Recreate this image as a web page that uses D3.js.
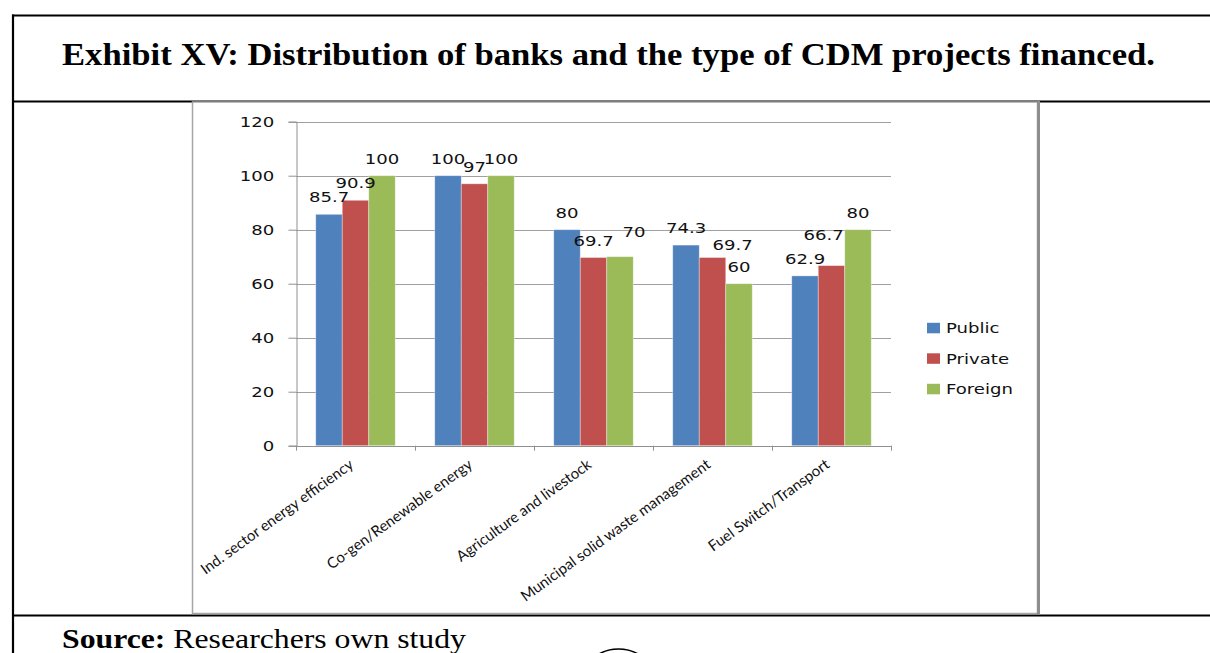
<!DOCTYPE html>
<html>
<head>
<meta charset="utf-8">
<script src="https://cdn.jsdelivr.net/npm/d3@7"></script>
<style>
  html, body { margin: 0; padding: 0; background: #fff; }
  svg { display: block; }
</style>
</head>
<body>
<svg id="chart" width="1210" height="653"></svg>
<script>
// CDM project types financed, by bank ownership (% of banks)
const categories = [
  "Ind. sector energy efficiency",
  "Co-gen/Renewable energy",
  "Agriculture and livestock",
  "Municipal solid waste management",
  "Fuel Switch/Transport"
];
const seriesNames = ["Public", "Private", "Foreign"];
const publicValues  = [85.7, 100, 80, 74.3, 62.9];
const privateValues = [90.9, 97, 69.7, 69.7, 66.7];
const foreignValues = [100, 100, 70, 60, 80];
const yTickValues = [0, 20, 40, 60, 80, 100, 120];

const titleText = "Exhibit XV: Distribution of banks and the type of CDM projects financed.";
const sourceLabel = "Source:";
const sourceText = " Researchers own study";

const seriesValues = [publicValues, privateValues, foreignValues];
const colors = ["#4F81BD", "#C0504D", "#9BBB59"];

const svg = d3.select("#chart");
const W = 1210, H = 653;

// ---- document frame (table cells) ----
const frame = svg.append("g").attr("stroke", "#000").attr("stroke-width", 2.2).attr("fill", "none");
frame.append("line").attr("x1", 12).attr("x2", W).attr("y1", 15.5).attr("y2", 15.5);
frame.append("line").attr("x1", 13).attr("x2", 13).attr("y1", 14.5).attr("y2", H);
frame.append("line").attr("x1", 12).attr("x2", W).attr("y1", 101.5).attr("y2", 101.5);
frame.append("line").attr("x1", 12).attr("x2", W).attr("y1", 615.5).attr("y2", 615.5);

// title
svg.append("text")
  .attr("x", 62).attr("y", 65)
  .attr("font-family", "'Liberation Serif', 'Times New Roman', serif")
  .attr("font-weight", "bold")
  .attr("font-size", 32.5)
  .attr("textLength", 1093)
  .attr("lengthAdjust", "spacingAndGlyphs")
  .text(titleText);

// source line
const src = svg.append("text")
  .attr("x", 62).attr("y", 648)
  .attr("font-family", "'Liberation Serif', 'Times New Roman', serif")
  .attr("font-size", 28)
  .attr("textLength", 404)
  .attr("lengthAdjust", "spacingAndGlyphs");
src.append("tspan").attr("font-weight", "bold").text(sourceLabel);
src.append("tspan").text(sourceText);

// page-number ring peeking in at the bottom
svg.append("circle")
  .attr("cx", 618.5).attr("cy", 689).attr("r", 40)
  .attr("fill", "none").attr("stroke", "#000").attr("stroke-width", 1.6);

// ---- chart box ----
svg.append("rect")
  .attr("x", 192.5).attr("y", 102).attr("width", 845).attr("height", 511.5)
  .attr("fill", "#fff").attr("stroke", "#a6a6a6").attr("stroke-width", 1.5);
svg.append("line")
  .attr("x1", 1038.5).attr("x2", 1038.5).attr("y1", 101).attr("y2", 614.5)
  .attr("stroke", "#8e8e8e").attr("stroke-width", 3);

// ---- scales ----
const plotLeft = 296, plotRight = 891, plotTop = 121.7, plotBottom = 445.7;
const x0 = d3.scaleBand().domain(categories).range([plotLeft, plotRight])
  .paddingInner(0.332).paddingOuter(0.166);
const x1 = d3.scaleBand().domain(seriesNames).range([0, x0.bandwidth()]);
const y = d3.scaleLinear().domain([0, 120]).range([plotBottom, plotTop]);

const SX = 1.23; // horizontal stretch of the chart lettering
const chartFont = "'DejaVu Sans', Verdana, sans-serif";

// gridlines
svg.append("g").selectAll("line").data(yTickValues.filter(v => v > 0)).join("line")
  .attr("x1", plotLeft).attr("x2", plotRight)
  .attr("y1", d => Math.round(y(d)) + 0.5).attr("y2", d => Math.round(y(d)) + 0.5)
  .attr("stroke", "#a0a0a0").attr("stroke-width", 1);

// y axis
const yAxis = svg.append("g")
  .attr("transform", `translate(${plotLeft + 0.5},0)`)
  .call(d3.axisLeft(y).tickValues(yTickValues).tickSize(8).tickPadding(10));
yAxis.select(".domain").attr("stroke", "#909090");
yAxis.selectAll(".tick line").attr("stroke", "#909090");
yAxis.selectAll(".tick text")
  .attr("font-family", chartFont).attr("font-size", 14.7).attr("fill", "#111")
  .attr("transform", `scale(${SX},1)`);

// bars
const groups = svg.append("g").selectAll("g").data(categories).join("g")
  .attr("transform", d => `translate(${x0(d)},0)`);
groups.selectAll("rect")
  .data((c, i) => seriesNames.map((s, k) => ({ cat: c, series: s, k, value: seriesValues[k][i] })))
  .join("rect")
  .attr("x", d => x1(d.series))
  .attr("y", d => y(d.value))
  .attr("width", x1.bandwidth())
  .attr("height", d => y(0) - y(d.value))
  .attr("fill", d => colors[d.k])
  .attr("stroke", "rgba(255,255,255,0.45)")
  .attr("stroke-width", 0.8);

// x axis with boundary ticks
const xAxisG = svg.append("g");
xAxisG.append("line")
  .attr("x1", plotLeft).attr("x2", plotRight)
  .attr("y1", Math.round(plotBottom) + 0.5).attr("y2", Math.round(plotBottom) + 0.5)
  .attr("stroke", "#909090");
const boundaries = categories.map(c => x0(c) - x0.step() * x0.paddingInner() / 2)
  .concat([plotRight]);
xAxisG.selectAll("line.tk").data(boundaries).join("line").attr("class", "tk")
  .attr("x1", d => Math.round(d) + 0.5).attr("x2", d => Math.round(d) + 0.5)
  .attr("y1", plotBottom).attr("y2", plotBottom + 5)
  .attr("stroke", "#909090");

// category labels, slanted
svg.append("g").selectAll("text").data(categories).join("text")
  .attr("transform", d => `translate(${x0(d) + x0.bandwidth() / 2 - 1},${plotBottom + 21}) rotate(-36)`)
  .attr("text-anchor", "end")
  .attr("font-family", "Lato, 'Open Sans', sans-serif")
  .attr("font-size", 15)
  .attr("fill", "#111")
  .text(d => d);

// value labels (a few nudged apart where they would collide)
const labelNudge = {
  "Agriculture and livestock|Foreign": [14, -8],
  "Municipal solid waste management|Private": [20, 4],
  "Fuel Switch/Transport|Private": [-8, -14]
};
groups.selectAll("text")
  .data((c, i) => seriesNames.map((s, k) => ({ cat: c, series: s, k, value: seriesValues[k][i] })))
  .join("text")
  .attr("transform", d => {
    const n = labelNudge[d.cat + "|" + d.series] || [0, 0];
    const cx = x1(d.series) + x1.bandwidth() / 2 + n[0];
    const cy = y(d.value) - 12 + n[1];
    return `translate(${cx},${cy}) scale(${SX},1)`;
  })
  .attr("text-anchor", "middle")
  .attr("font-family", chartFont).attr("font-size", 14.7).attr("fill", "#111")
  .text(d => d.value);

// legend
const legend = svg.append("g");
const legendRows = legend.selectAll("g").data(seriesNames).join("g")
  .attr("transform", (d, i) => `translate(927,${328 + i * 30.5})`);
legendRows.append("rect")
  .attr("x", 0).attr("y", -5.2).attr("width", 13).attr("height", 10.5)
  .attr("fill", (d, i) => colors[i]);
legendRows.append("text")
  .attr("transform", `translate(19,5.3) scale(${SX},1)`)
  .attr("font-family", chartFont).attr("font-size", 14.7).attr("fill", "#111")
  .text(d => d);
</script>
</body>
</html>
